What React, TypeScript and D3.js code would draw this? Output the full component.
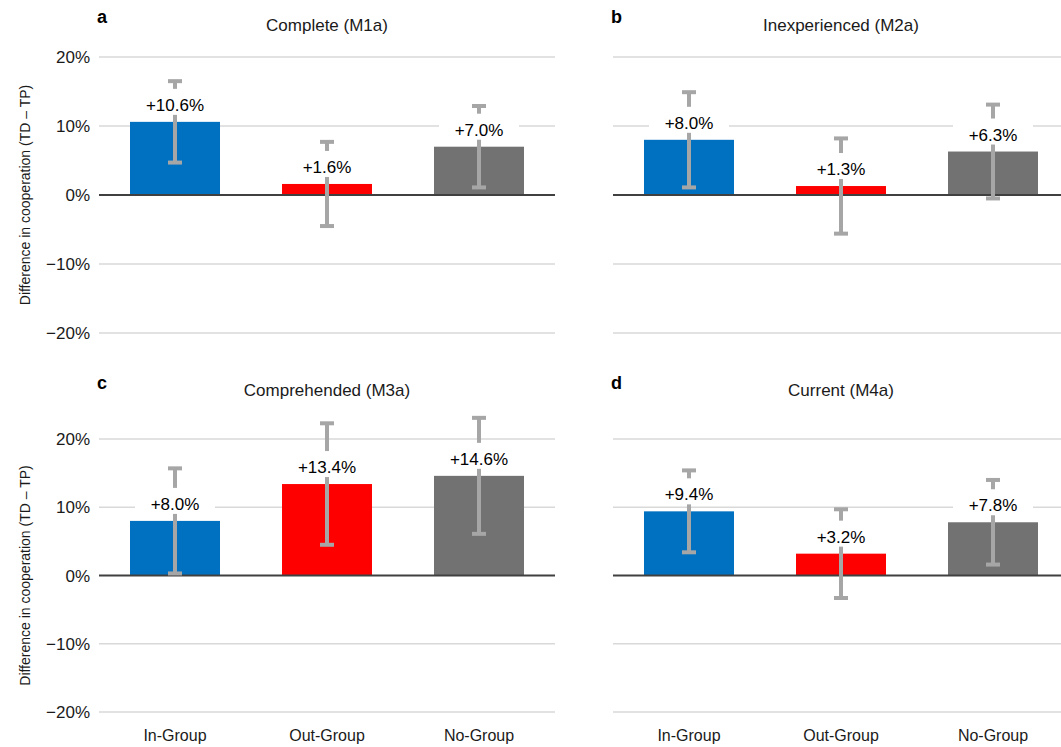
import React from "react";
import * as d3 from "d3";

const categories = ["In-Group", "Out-Group", "No-Group"];
const panelLetters = ["a", "b", "c", "d"];
const panelTitles = ["Complete (M1a)", "Inexperienced (M2a)", "Comprehended (M3a)", "Current (M4a)"];
const valuesA = [10.6, 1.6, 7.0];
const valuesB = [8.0, 1.3, 6.3];
const valuesC = [8.0, 13.4, 14.6];
const valuesD = [9.4, 3.2, 7.8];
const errorsA = [5.9, 6.1, 5.9];
const errorsB = [6.9, 6.9, 6.8];
const errorsC = [7.7, 8.9, 8.5];
const errorsD = [6.0, 6.5, 6.2];
const yTicks = [-20, -10, 0, 10, 20];
const barColors = ["#0070C0", "#FF0000", "#727272"];

const values = [valuesA, valuesB, valuesC, valuesD];
const errors = [errorsA, errorsB, errorsC, errorsD];

const FONT = "'Liberation Sans', Arial, Helvetica, sans-serif";

const fmtTick = (v: number) => (v < 0 ? "\u2212" + Math.abs(v) : String(v)) + "%";
const fmtLabel = (v: number) => (v >= 0 ? "+" : "\u2212") + Math.abs(v).toFixed(1) + "%";

function Panel({ idx, x0, x1, yTop, yBottom, showX, showYLabel, letterY, titleY }: any) {
  const x = d3.scaleBand<string>().domain(categories).range([x0, x1]).paddingInner(0.408).paddingOuter(0.204);
  const y = d3.scaleLinear().domain([-20, 20]).range([yBottom, yTop]);
  const vals = values[idx];
  const errs = errors[idx];
  const cx = (c: string) => (x(c) as number) + x.bandwidth() / 2;
  const boxW = 80;
  return (
    <g>
      <text x={x0 - 2} y={letterY} fontFamily={FONT} fontWeight="bold" fontSize={18} fill="#000">
        {panelLetters[idx]}
      </text>
      <text x={(x0 + x1) / 2} y={titleY} fontFamily={FONT} fontSize={17} fill="#1a1a1a" textAnchor="middle">
        {panelTitles[idx]}
      </text>
      {yTicks.filter((t) => t !== 0).map((t) => (
        <line key={"g" + t} x1={x0} x2={x1} y1={y(t)} y2={y(t)} stroke="#d9d9d9" strokeWidth={1.5} />
      ))}
      {showYLabel &&
        yTicks.map((t) => (
          <text key={"t" + t} x={x0 - 9} y={y(t) + 6} fontFamily={FONT} fontSize={17} fill="#1a1a1a" textAnchor="end">
            {fmtTick(t)}
          </text>
        ))}
      {showYLabel && (
        <text
          transform={`translate(30,${(yTop + yBottom) / 2}) rotate(-90)`}
          fontFamily={FONT}
          fontSize={14}
          fill="#1a1a1a"
          textAnchor="middle"
        >
          Difference in cooperation (TD – TP)
        </text>
      )}
      {categories.map((c, i) => (
        <rect
          key={"b" + c}
          x={x(c)}
          width={x.bandwidth()}
          y={y(Math.max(0, vals[i]))}
          height={Math.abs(y(vals[i]) - y(0))}
          fill={barColors[i]}
        />
      ))}
      <line x1={x0} x2={x1} y1={y(0)} y2={y(0)} stroke="#404040" strokeWidth={2.2} />
      {categories.map((c, i) => (
        <line
          key={"e" + c}
          x1={cx(c)}
          x2={cx(c)}
          y1={y(vals[i] + errs[i])}
          y2={y(vals[i] - errs[i])}
          stroke="#a6a6a6"
          strokeWidth={4}
        />
      ))}
      {categories.map((c, i) => {
        const top = y(Math.max(0, vals[i]));
        return (
          <g key={"l" + c}>
            <rect x={cx(c) - boxW / 2} y={top - 33} width={boxW} height={26} fill="#fff" />
            <text x={cx(c)} y={top - 11} fontFamily={FONT} fontSize={17} fill="#000" textAnchor="middle">
              {fmtLabel(vals[i])}
            </text>
          </g>
        );
      })}
      {categories.map((c, i) => (
        <g key={"c" + c}>
          <line x1={cx(c) - 7} x2={cx(c) + 7} y1={y(vals[i] + errs[i])} y2={y(vals[i] + errs[i])} stroke="#a6a6a6" strokeWidth={4} />
          <line x1={cx(c) - 7} x2={cx(c) + 7} y1={y(vals[i] - errs[i])} y2={y(vals[i] - errs[i])} stroke="#a6a6a6" strokeWidth={4} />
        </g>
      ))}
      {showX &&
        categories.map((c) => (
          <text key={"x" + c} x={cx(c)} y={741} fontFamily={FONT} fontSize={16} fill="#1a1a1a" textAnchor="middle">
            {c}
          </text>
        ))}
    </g>
  );
}

export default function App() {
  return (
    <svg
      width={1061}
      height={747}
      style={{ position: "absolute", left: 0, top: 0, background: "#fff" }}
    >
      <rect width={1061} height={747} fill="#fff" />
      <Panel idx={0} x0={99} x1={555} yTop={57} yBottom={333} showX={false} showYLabel={true} letterY={23} titleY={31} />
      <Panel idx={1} x0={613} x1={1069} yTop={57} yBottom={333} showX={false} showYLabel={false} letterY={23} titleY={31} />
      <Panel idx={2} x0={99} x1={555} yTop={439} yBottom={712} showX={true} showYLabel={true} letterY={389} titleY={396} />
      <Panel idx={3} x0={613} x1={1069} yTop={439} yBottom={712} showX={true} showYLabel={false} letterY={389} titleY={396} />
    </svg>
  );
}
